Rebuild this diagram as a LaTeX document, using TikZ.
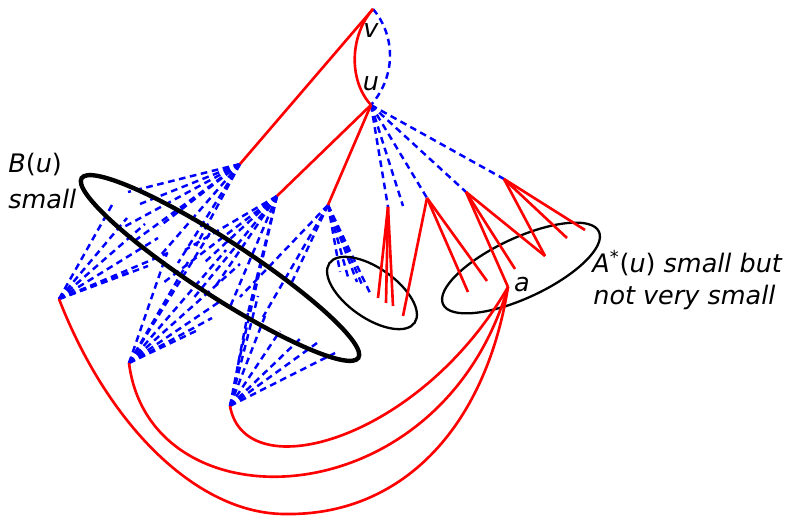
\documentclass[tikz,border=0pt]{standalone}
\usepackage{fontspec}
\setsansfont{DejaVu Sans}
\usepackage{tikz}
\usetikzlibrary{shapes.geometric}
\tikzset{
  redge/.style={draw=red, line width=1.5pt},
  bdash/.style={draw=blue, line width=1.4pt, dash pattern=on 3.8pt off 2.6pt},
  bigring/.style={draw, ellipse, line width=2.5pt, inner sep=0pt},
  smallring/.style={draw, ellipse, line width=1.3pt, inner sep=0pt},
  vlabel/.style={font=\sffamily\itshape\fontsize{14.5}{17}\selectfont, inner sep=0pt},
  sidelabel/.style={vlabel, anchor=base west}
}

\begin{document}
\begin{tikzpicture}[x=0.02cm, y=-0.02cm]
\useasboundingbox (0,0) rectangle (788,516);

% Vertices
\coordinate (v) at (373,9);
\coordinate (u) at (371,105);
\coordinate (h1) at (240,164);
\coordinate (h2) at (277,196);
\coordinate (h3) at (328,205);
\coordinate (l1) at (59,299);
\coordinate (l2) at (129,363);
\coordinate (l3) at (230,406);
\coordinate (a) at (508,287);
\coordinate (s1) at (388,207);
\coordinate (s2) at (427,198);
\coordinate (s3) at (466,192);
\coordinate (s4) at (504,179);
\coordinate (s5) at (403,206);
\coordinate (w) at (545,256);
\coordinate (low) at (285,514);

% Dashed fans inside B(u)
\foreach \x/\y [count=\i] in {128/192, 140/204, 122/228, 133/242, 160/226, 160/256, 178/263, 196/246} {
  \coordinate (h1e\i) at (\x,\y);
  \draw[bdash] (h1) -- (h1e\i);
}
\foreach \x/\y [count=\i] in {112/205, 127/218, 145/224, 158/238, 168/253, 148/266, 130/272} {
  \coordinate (l1e\i) at (\x,\y);
  \draw[bdash] (l1) -- (l1e\i);
}
\foreach \x/\y [count=\i] in {185/250, 163/283, 205/262, 215/287, 192/300, 230/307, 248/313, 238/365} {
  \coordinate (h2e\i) at (\x,\y);
  \draw[bdash] (h2) -- (h2e\i);
}
\foreach \x/\y [count=\i] in {167/253, 188/262, 210/233, 226/250, 240/264, 222/300, 212/318, 198/330} {
  \coordinate (l2e\i) at (\x,\y);
  \draw[bdash] (l2) -- (l2e\i);
}
\foreach \x/\y [count=\i] in {340/272, 348/277, 357/282, 363/287, 370/293, 240/297, 263/317, 292/282} {
  \coordinate (h3e\i) at (\x,\y);
  \draw[bdash] (h3) -- (h3e\i);
}
\foreach \x/\y [count=\i] in {335/353, 317/343, 302/337, 280/331, 265/316, 248/313, 258/296} {
  \coordinate (l3e\i) at (\x,\y);
  \draw[bdash] (l3) -- (l3e\i);
}

% Dashed edges out of u
\draw[bdash] (v) .. controls (395,35) and (397,75) .. (u);
\foreach \t in {s1,s5,s2,s3,s4}
  \draw[bdash] (u) -- (\t);

% Sets
\node[bigring, minimum width=6.6cm, minimum height=1.12cm, rotate=-33] (bset) at (220,268) {};
\node[smallring, minimum width=2.08cm, minimum height=1cm, rotate=-35] (cset) at (372,293) {};
\node[smallring, minimum width=3.44cm, minimum height=1.2cm, rotate=25] (aset) at (521,268) {};

% Red tree edges
\draw[redge] (v) .. controls (350,35) and (348,80) .. (u);
\draw[redge] (v) -- (h1);
\draw[redge] (u) -- (h2);
\draw[redge] (u) -- (h3);

% Red stars
\foreach \x/\y [count=\i] in {378/298, 386/303, 393/306} {
  \coordinate (s1e\i) at (\x,\y);
  \draw[redge] (s1) -- (s1e\i);
}
\foreach \x/\y [count=\i] in {403/316, 468/292, 487/281} {
  \coordinate (s2e\i) at (\x,\y);
  \draw[redge] (s2) -- (s2e\i);
}
\coordinate (s3e) at (515,269);
\draw[redge] (s3) -- (s3e);
\draw[redge] (s3) -- (a);
\draw[redge] (s3) -- (w);
\foreach \x/\y [count=\i] in {567/238, 585/230} {
  \coordinate (s4e\i) at (\x,\y);
  \draw[redge] (s4) -- (s4e\i);
}
\draw[redge] (s4) -- (w);

% Long arcs back to a
\draw[redge] (l3) .. controls (245,490) and (420,440) .. (a);
\draw[redge] (l2) .. controls (150,530) and (440,520) .. (a);
\draw[redge] (l1) .. controls (110,430) and (200,514) .. (low)
                  .. controls (400,516) and (485,430) .. (a);

% Labels
\node[vlabel] (vlab) at (371,31) {v};
\node[vlabel] (ulab) at (371,84) {u};
\node[vlabel] (alab) at (522,285) {a};
\node[sidelabel] (blab) at (8,173) {B{\upshape(}u{\upshape)}};
\node[sidelabel] (blab2) at (8,209) {small};
\node[sidelabel] (astar) at (592,273) {A\textsuperscript{*}{\upshape(}u{\upshape)} small but};
\node[sidelabel] (astar2) at (593,305) {not very small};

\end{tikzpicture}
\end{document}
